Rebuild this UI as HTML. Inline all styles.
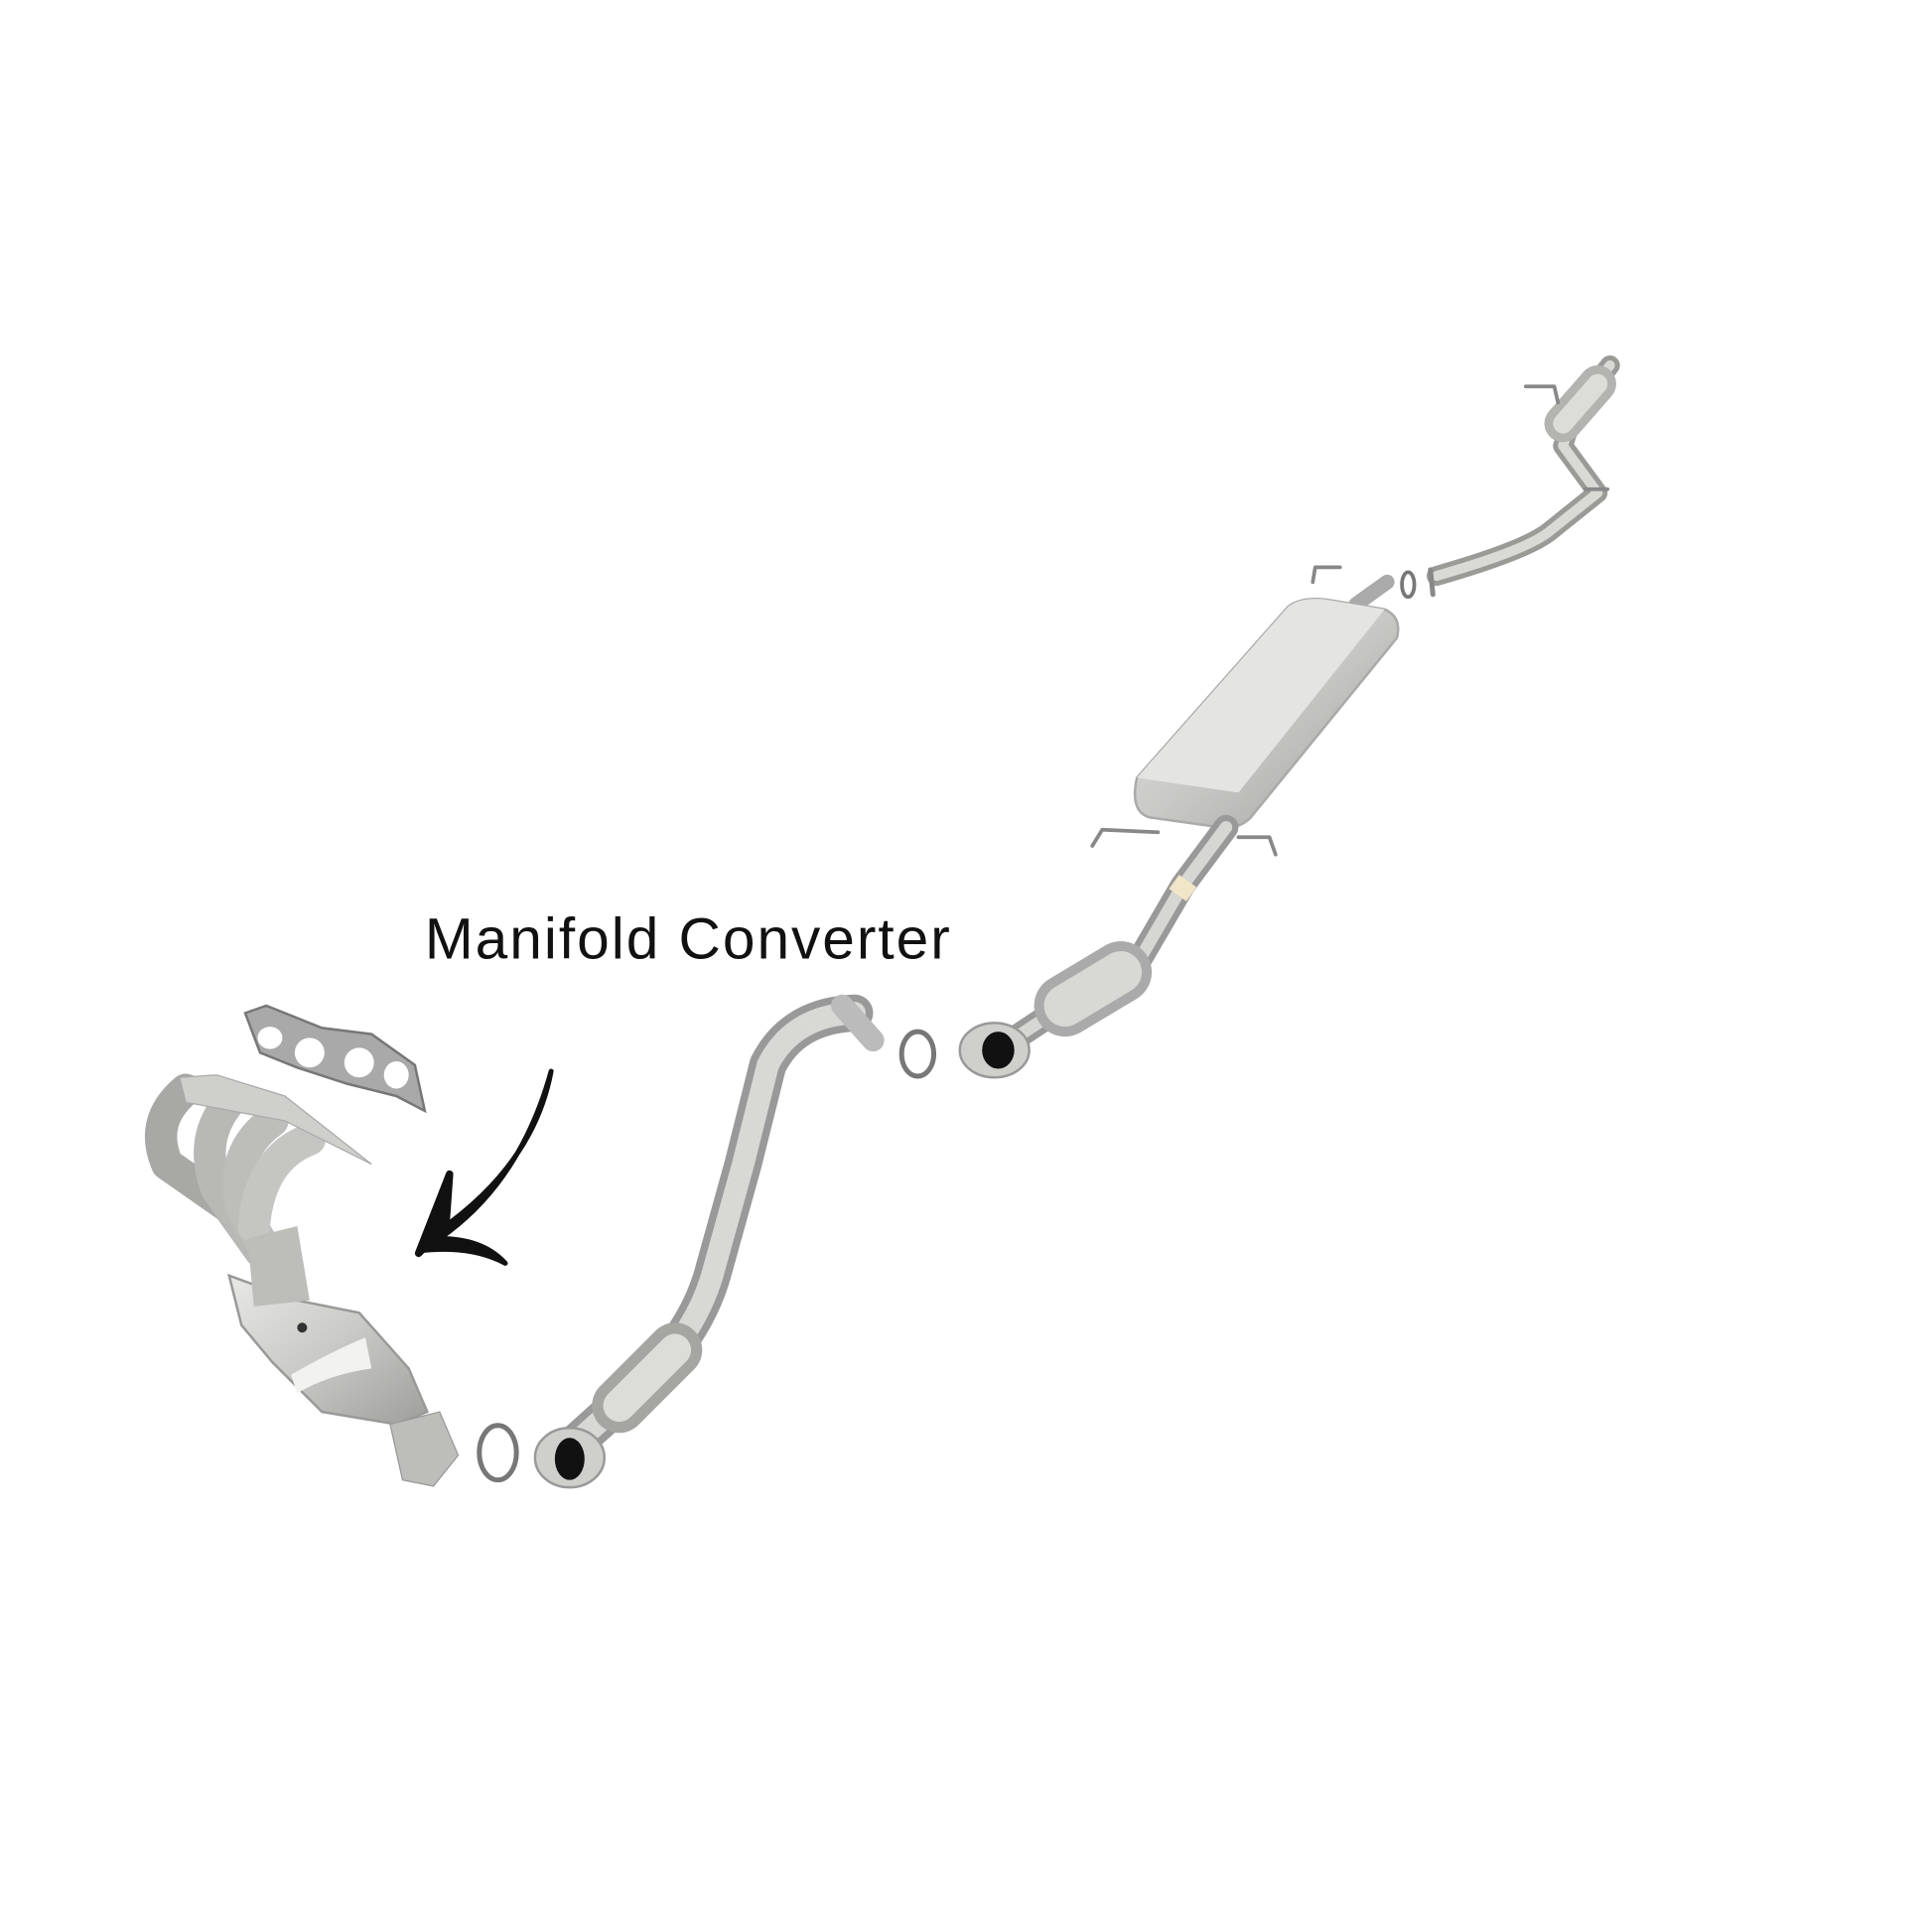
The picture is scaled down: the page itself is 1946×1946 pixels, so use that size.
<!DOCTYPE html>
<html><head><style>
html,body{margin:0;padding:0;background:#fff;}
svg{display:block}
</style></head><body>
<svg width="1946" height="1946" viewBox="0 0 1560 1560" xmlns="http://www.w3.org/2000/svg">
<defs>
<linearGradient id="g" x1="0" y1="0" x2="1" y2="1">
<stop offset="0" stop-color="#e8e8e6"/><stop offset="0.5" stop-color="#c9c9c6"/><stop offset="1" stop-color="#9e9e9b"/>
</linearGradient>
</defs>
<rect width="1560" height="1560" fill="#fff"/>
<g fill="none" stroke-linecap="round" stroke-linejoin="round">
<path d="M1300 295 L1272 330 L1262 360 L1290 398 L1250 430 Q1230 445 1160 465" stroke="#9a9a97" stroke-width="16"/>
<path d="M1300 295 L1272 330 L1262 360 L1290 398 L1250 430 Q1230 445 1160 465" stroke="#d9d9d6" stroke-width="8"/>
<path d="M1290 310 L1262 342" stroke="#b3b3b0" stroke-width="30"/>
<path d="M1290 310 L1262 342" stroke="#dcdcd9" stroke-width="16"/>
<path d="M1232 312 L1255 312 L1258 325" stroke="#888" stroke-width="3"/>
<path d="M1280 395 L1298 395" stroke="#888" stroke-width="3"/>
<ellipse cx="1137" cy="472" rx="5" ry="10" stroke="#777" stroke-width="3"/>
<path d="M1155 460 L1157 480" stroke="#888" stroke-width="4"/>
<path d="M1060 470 L1062 458 L1082 458" stroke="#888" stroke-width="3"/>
<path d="M1095 488 L1120 470" stroke="#aaa" stroke-width="12"/>
</g>
<path d="M918 628 L1040 490 Q1050 482 1070 484 L1118 492 Q1132 498 1128 515 L1010 660 Q1000 670 985 668 L928 660 Q912 655 918 628 Z" fill="url(#g)" stroke="#aaa" stroke-width="2"/>
<path d="M918 628 L1040 490 Q1050 482 1070 484 L1118 492 L1000 640 Z" fill="#e4e4e2"/>
<g fill="none" stroke-linecap="round" stroke-linejoin="round">
<path d="M882 683 L890 670 L935 672" stroke="#888" stroke-width="3"/>
<path d="M1000 676 L1025 676 L1030 690" stroke="#888" stroke-width="3"/>
<path d="M990 668 L955 715 L920 775 L870 805 L820 838" stroke="#999" stroke-width="20"/>
<path d="M990 668 L955 715 L920 775 L870 805 L820 838" stroke="#d6d6d3" stroke-width="10"/>
<path d="M905 785 L860 812" stroke="#aaa" stroke-width="50"/>
<path d="M905 785 L860 812" stroke="#d8d8d5" stroke-width="34"/>
<path d="M948 712 L962 722" stroke="#f2e6c8" stroke-width="14" stroke-linecap="butt"/>
</g>
<ellipse cx="803" cy="848" rx="28" ry="22" fill="#cfcfcc" stroke="#999" stroke-width="2"/>
<ellipse cx="806" cy="848" rx="13" ry="15" fill="#111"/>
<ellipse cx="741" cy="851" rx="13" ry="18" fill="none" stroke="#777" stroke-width="4"/>
<g fill="none" stroke-linecap="round" stroke-linejoin="round">
<path d="M690 818 Q640 820 620 860 L600 940 L575 1030 Q560 1080 515 1120 L465 1165" stroke="#999" stroke-width="30"/>
<path d="M690 818 Q640 820 620 860 L600 940 L575 1030 Q560 1080 515 1120 L465 1165" stroke="#d8d8d5" stroke-width="18"/>
<path d="M545 1090 L500 1135" stroke="#a5a5a2" stroke-width="44"/>
<path d="M545 1090 L500 1135" stroke="#dcdcd9" stroke-width="26"/>
<path d="M680 812 L705 840" stroke="#bbb" stroke-width="18"/>
</g>
<ellipse cx="460" cy="1177" rx="28" ry="24" fill="#cfcfcc" stroke="#999" stroke-width="2"/>
<ellipse cx="460" cy="1178" rx="12" ry="17" fill="#111"/>
<ellipse cx="402" cy="1173" rx="15" ry="22" fill="none" stroke="#777" stroke-width="4"/>
<polygon points="198,818 215,812 260,830 300,835 335,860 343,897 320,885 280,875 240,862 210,850" fill="#a9a9a9" stroke="#777" stroke-width="2"/>
<g fill="#fff"><ellipse cx="218" cy="838" rx="10" ry="9"/><ellipse cx="250" cy="850" rx="12" ry="12"/><ellipse cx="290" cy="858" rx="12" ry="12"/><ellipse cx="320" cy="868" rx="10" ry="11"/></g>
<g fill="none" stroke-linecap="round" stroke-linejoin="round">
<path d="M150 880 Q120 905 135 940 L185 975 L210 1010" stroke="#a8a8a5" stroke-width="26"/>
<path d="M185 890 Q160 920 175 960 L210 1010" stroke="#b8b8b5" stroke-width="26"/>
<path d="M220 905 Q185 930 195 975 L215 1010" stroke="#bdbdba" stroke-width="26"/>
<path d="M250 920 Q210 935 205 990" stroke="#c5c5c2" stroke-width="26"/>
</g>
<polygon points="145,870 175,868 230,885 300,940 230,905 150,890" fill="#cfcfcc" stroke="#aaa"/>
<polygon points="185,1030 240,1050 290,1060 330,1105 345,1140 320,1150 260,1140 220,1100 195,1070" fill="url(#g)" stroke="#999" stroke-width="2"/>
<polygon points="200,1000 240,990 250,1050 205,1055" fill="#bdbdba"/>
<path d="M235 1110 Q270 1090 295 1080 L300 1105 Q265 1110 240 1125 Z" fill="#f2f2f0"/>
<polygon points="315,1150 355,1140 370,1175 350,1200 325,1195" fill="#bdbdba" stroke="#999"/>
<circle cx="244" cy="1072" r="4" fill="#333"/>
<path d="M445 865 Q430 945 345 1000 L338 1010 Q380 1005 408 1020 Q390 1000 355 1000 Q420 955 445 865 Z" fill="#111" stroke="#111" stroke-width="4" stroke-linejoin="round"/>
<path d="M363 948 L338 1012 L360 990 Z" fill="#111" stroke="#111" stroke-width="6" stroke-linejoin="round"/>
<text x="343" y="774" font-family="Liberation Sans, sans-serif" font-size="47" fill="#111" textLength="424" lengthAdjust="spacing">Manifold Converter</text>
</svg>
</body></html>
